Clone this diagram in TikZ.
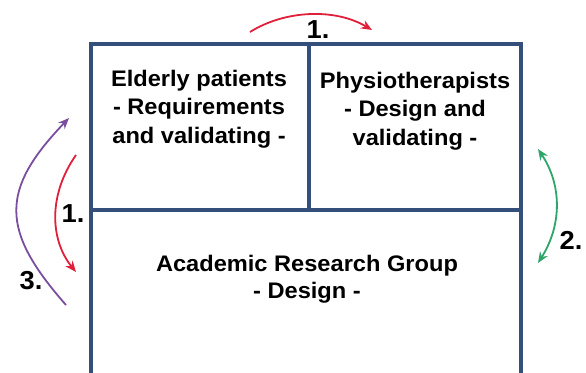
\documentclass[tikz,border=0pt]{standalone}
\usepackage{fontspec}
\setmainfont[FakeStretch=1.05]{Liberation Sans}
\usetikzlibrary{arrows.meta}
\definecolor{boxblue}{HTML}{34507A}
\definecolor{arrred}{HTML}{E0203A}
\definecolor{arrpurple}{HTML}{7A4E9E}
\definecolor{arrgreen}{HTML}{2FA56A}
\begin{document}
\begin{tikzpicture}[x=1pt,y=-1pt,
  frame/.style={draw=boxblue,line width=3.2pt},
  lbl/.style={font=\bfseries\fontsize{22.5}{28.5}\selectfont,align=center,inner sep=0pt},
  lblb/.style={font=\bfseries\fontsize{22.5}{26.5}\selectfont,align=center,inner sep=0pt},
  num/.style={font=\bfseries\fontsize{26}{28}\selectfont,inner sep=0pt},
  curved/.style={line width=1.8pt,-{Stealth[length=11pt,width=9pt]}},
  dcurved/.style={line width=1.8pt,{Stealth[length=11pt,width=9pt]}-{Stealth[length=11pt,width=9pt]}}]
\useasboundingbox (0,0) rectangle (586,372);
% frame
\coordinate (tl) at (91,44);
\coordinate (tr) at (521,44);
\coordinate (bl) at (91,380);
\coordinate (br) at (521,380);
\coordinate (ml) at (91,210);
\coordinate (mr) at (521,210);
\coordinate (dt) at (309,44);
\coordinate (db) at (309,210);
\draw[frame] (bl) -- (tl) -- (tr) -- (br);
\draw[frame] (ml) -- (mr);
\draw[frame] (dt) -- (db);
% texts
\node[lbl] (eld) at (199,109) {Elderly patients\\- Requirements\\and validating -};
\node[lbl] (phy) at (415,111) {Physiotherapists\\- Design and\\validating -};
\node[lblb] (acad) at (307,279) {Academic Research Group\\- Design -};
% arrows
\coordinate (t1s) at (250,32);
\coordinate (t1e) at (372,30);
\draw[curved,arrred] (t1s) .. controls (285,10) and (335,8) .. (t1e);
\node[num] (n1a) at (318,30) {1.};
\coordinate (l1s) at (76,155);
\coordinate (l1e) at (76,272);
\draw[curved,arrred] (l1s) .. controls (48,195) and (50,240) .. (l1e);
\node[num] (n1b) at (73,214) {1.};
\coordinate (p3s) at (66,305);
\coordinate (p3e) at (69,118);
\draw[curved,arrpurple] (p3s) .. controls (0,230) and (0,190) .. (p3e);
\node[num] (n3) at (31,281) {3.};
\coordinate (g2s) at (538,149);
\coordinate (g2e) at (538,263);
\draw[dcurved,arrgreen] (g2s) .. controls (562,185) and (562,225) .. (g2e);
\node[num] (n2) at (571,240) {2.};
\end{tikzpicture}
\end{document}
